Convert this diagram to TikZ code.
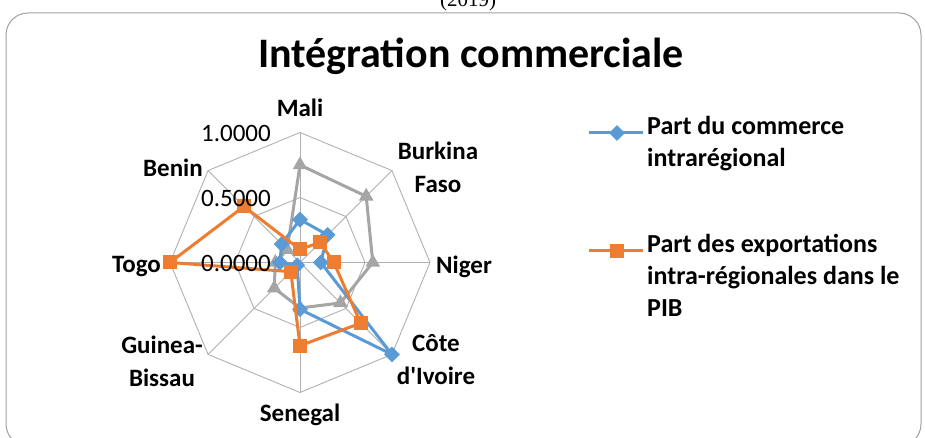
\documentclass[tikz,border=0pt]{standalone}
\usepackage{fontspec}
\setmainfont{Carlito}[Ligatures=TeXOff]
\newfontfamily\capfont{Liberation Serif}
\usetikzlibrary{shapes.geometric}

\definecolor{serblue}{HTML}{5B9BD5}
\definecolor{serorange}{HTML}{ED7D31}
\definecolor{sergray}{HTML}{A5A5A5}
\definecolor{gridgray}{HTML}{B0B0B0}
\definecolor{framegray}{HTML}{A0A0A0}

\tikzset{
  gridline/.style={draw=gridgray, line width=0.9pt},
  blueline/.style={draw=serblue, line width=3pt, line join=round},
  orangeline/.style={draw=serorange, line width=3pt, line join=round},
  grayline/.style={draw=sergray, line width=3pt, line join=round},
  diamark/.style={diamond, fill=serblue, inner sep=0pt, minimum size=16pt},
  sqmark/.style={rectangle, fill=serorange, inner sep=0pt, minimum size=14pt},
  trimark/.style={regular polygon, regular polygon sides=3, fill=sergray, inner sep=0pt, minimum size=17pt},
  axlbl/.style={font=\bfseries\fontsize{25}{33}\selectfont, align=center, inner sep=0pt},
  vallbl/.style={font=\fontsize{25}{30}\selectfont, inner sep=0pt, anchor=east},
  leglbl/.style={font=\bfseries\fontsize{26}{32}\selectfont, align=left, anchor=north west, inner sep=0pt}
}

\begin{document}
\begin{tikzpicture}[x=1pt, y=1pt]
            \def\Cx{300};
            \def\Cy{175.5};
            \def\R{130};

            \useasboundingbox (0,0) rectangle (925,438);

            % caption above the chart, cut by the page
            \node[font=\capfont\fontsize{21}{24}\selectfont, anchor=base] (caption) at (468,431) {(2019)};

            % chart frame
            \draw[framegray, line width=1pt, rounded corners=22pt] (6,-8) rectangle (921,425);

            % title
            \node[font=\bfseries\fontsize{42}{48}\selectfont, anchor=base] (title) at (471,370) {Intégration commerciale};

            \coordinate (C) at (\Cx,\Cy);

            % spokes
            \foreach \a in {90,45,0,-45,-90,-135,180,135}
              \draw[gridline] (C) -- ++(\a:\R);

            % rings at 0.5 and 1
            \foreach \f in {0.5,1}
              \draw[gridline, shift={(C)}] (90:{\f*\R}) -- (45:{\f*\R}) -- (0:{\f*\R}) -- (-45:{\f*\R})
                -- (-90:{\f*\R}) -- (-135:{\f*\R}) -- (180:{\f*\R}) -- (135:{\f*\R}) -- cycle;

            \begin{scope}[shift={(C)}]
              % gray series
              \coordinate (g1) at (90:{0.75*\R});
              \coordinate (g2) at (45:{0.72*\R});
              \coordinate (g3) at (0:{0.56*\R});
              \coordinate (g4) at (-45:{0.44*\R});
              \coordinate (g5) at (-90:{0.35*\R});
              \coordinate (g6) at (-135:{0.28*\R});
              \coordinate (g7) at (180:{0.19*\R});
              \coordinate (g8) at (135:{0.14*\R});
              % blue series
              \coordinate (b1) at (90:{0.33*\R});
              \coordinate (b2) at (45:{0.30*\R});
              \coordinate (b3) at (0:{0.16*\R});
              \coordinate (b4) at (-45:{1.0*\R});
              \coordinate (b5) at (-90:{0.36*\R});
              \coordinate (b6) at (-135:{0.03*\R});
              \coordinate (b7) at (180:{0.155*\R});
              \coordinate (b8) at (135:{0.20*\R});
              % orange series
              \coordinate (o1) at (90:{0.10*\R});
              \coordinate (o2) at (45:{0.22*\R});
              \coordinate (o3) at (0:{0.26*\R});
              \coordinate (o4) at (-45:{0.66*\R});
              \coordinate (o5) at (-90:{0.64*\R});
              \coordinate (o6) at (-135:{0.10*\R});
              \coordinate (o7) at (180:{1.0*\R});
              \coordinate (o8) at (135:{0.61*\R});
            \end{scope}

            % gray polygon
            \draw[grayline] (g1) -- (g2) -- (g3) -- (g4) -- (g5) -- (g6) -- (g7) -- (g8) -- cycle;
            \foreach \i in {1,...,8}
              \node[trimark] (gm\i) at (g\i) {};

            % blue polygon
            \draw[blueline] (b1) -- (b2) -- (b3) -- (b4) -- (b5) -- (b6) -- (b7) -- (b8) -- cycle;
            \foreach \i in {1,...,8}
              \node[diamark] (bm\i) at (b\i) {};

            % orange polygon
            \draw[orangeline] (o1) -- (o2) -- (o3) -- (o4) -- (o5) -- (o6) -- (o7) -- (o8) -- cycle;
            \foreach \i in {1,...,8}
              \node[sqmark] (om\i) at (o\i) {};

            % value labels
            \node[vallbl] (v1) at (271,305) {1.0000};
            \node[vallbl] (v05) at (271,240) {0.5000};
            \node[vallbl] (v0) at (271,175) {0.0000};

            % country labels
            \node[axlbl] (mali) at (300,330) {Mali};
            \node[axlbl] (burkina) at (438,271) {Burkina\\Faso};
            \node[axlbl, anchor=west] (niger) at (436,171) {Niger};
            \node[axlbl] (civ) at (436,78) {Côte\\d'Ivoire};
            \node[axlbl] (senegal) at (300,23) {Senegal};
            \node[axlbl] (gb) at (162,77) {Guinea-\\Bissau};
            \node[axlbl, anchor=east] (togo) at (161,171) {Togo};
            \node[axlbl] (benin) at (173,270) {Benin};

            % legend
            \coordinate (lb1) at (589,305);
            \coordinate (lb2) at (643,305);
            \draw[blueline] (lb1) -- (lb2);
            \node[diamark] (lbm) at (617,305) {};
            \node[leglbl] (lbtxt) at (647,322) {Part du commerce\\intrarégional};

            \coordinate (lo1) at (589,187);
            \coordinate (lo2) at (643,187);
            \draw[orangeline] (lo1) -- (lo2);
            \node[sqmark] (lom) at (617,187) {};
            \node[leglbl] (lotxt) at (647,204) {Part des exportations\\intra-régionales dans le\\PIB};

        \end{tikzpicture}
\end{document}
